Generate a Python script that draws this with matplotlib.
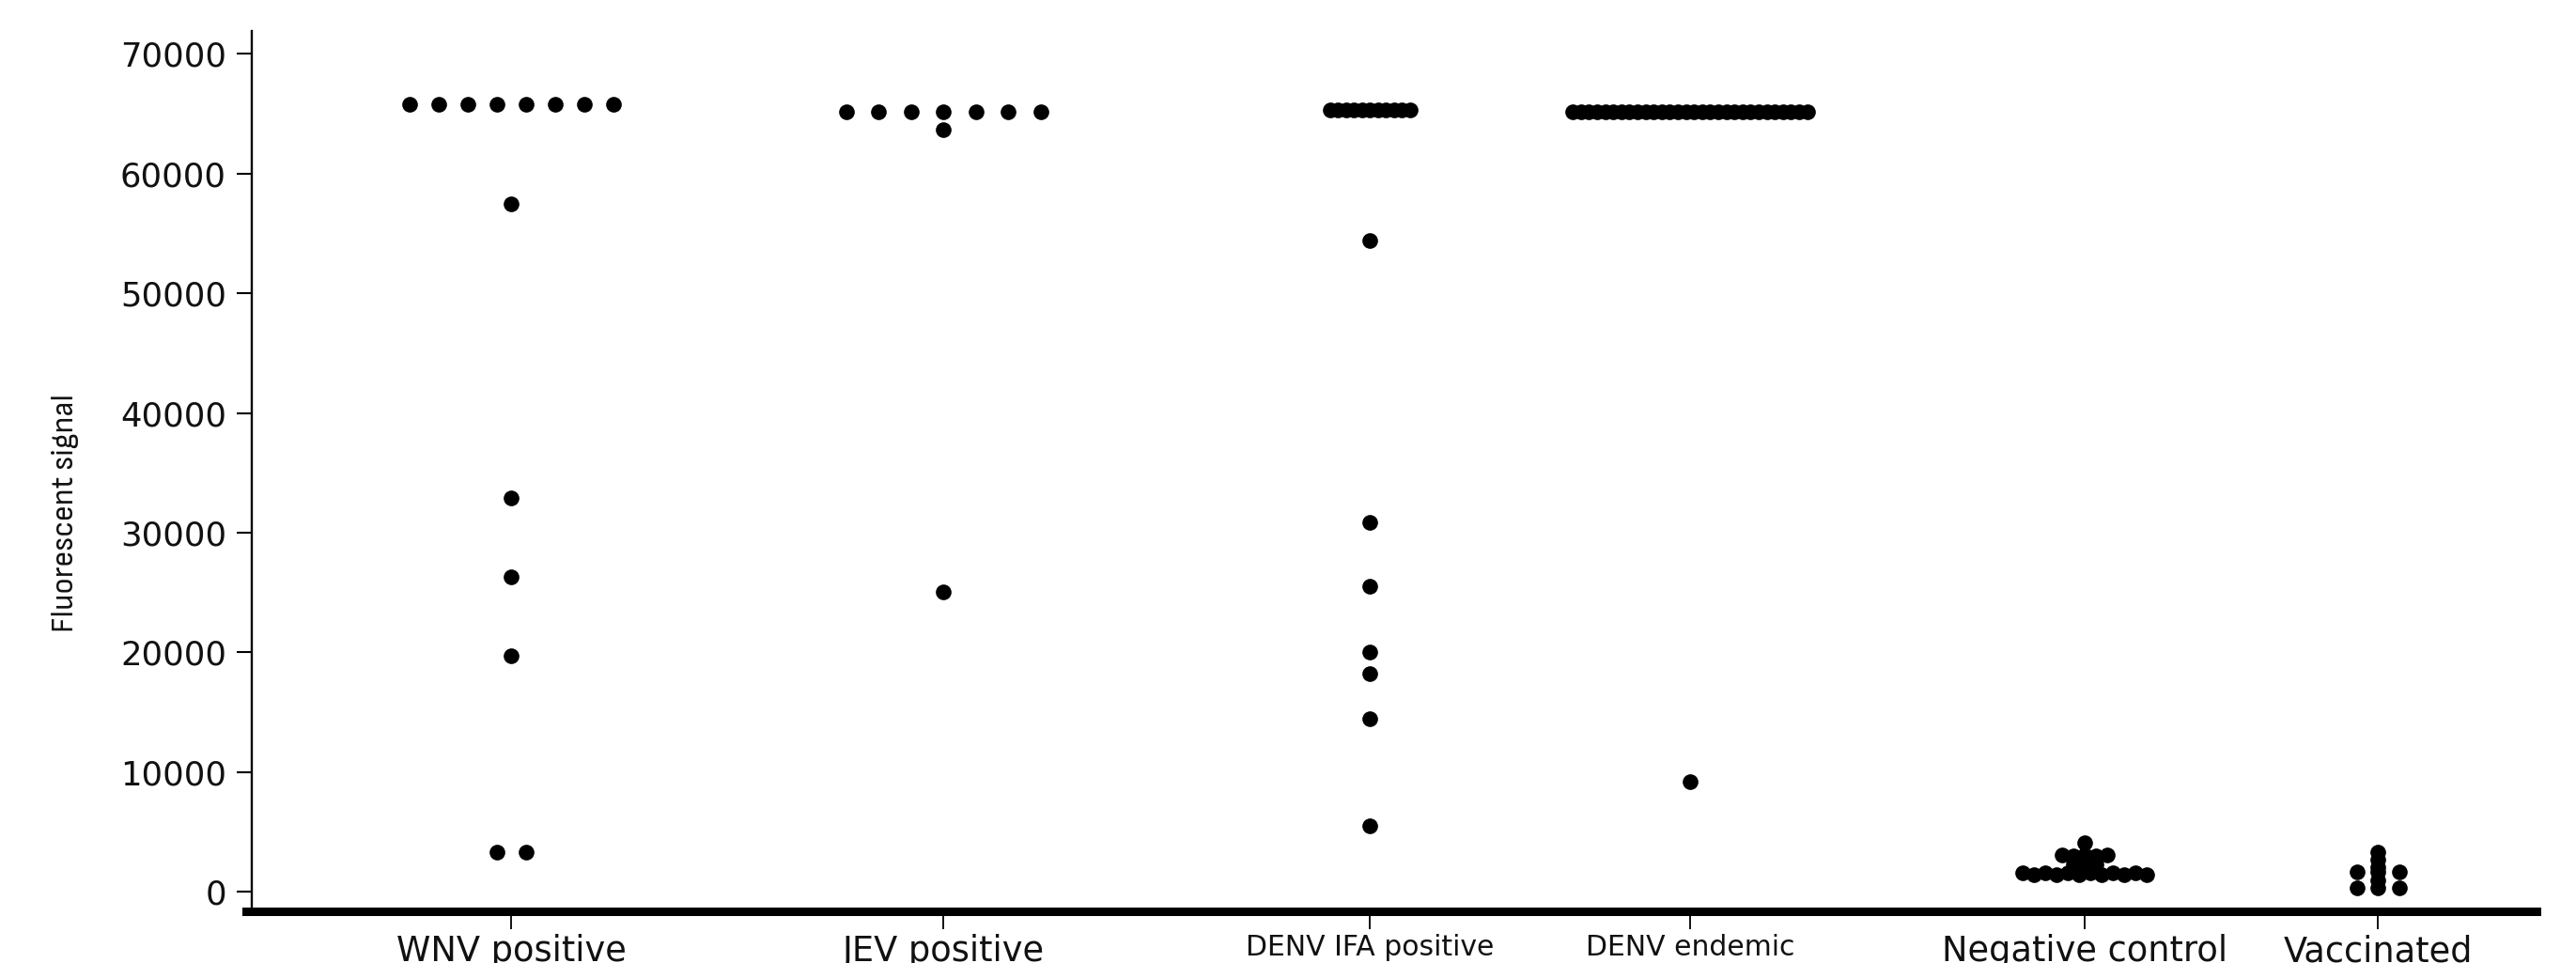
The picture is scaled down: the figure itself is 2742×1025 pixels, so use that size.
import matplotlib
matplotlib.use("Agg")
import matplotlib.pyplot as plt
from matplotlib import font_manager as fm
import numpy as np

# ---------------- data ----------------
categories = ["WNV positive", "JEV positive", "DENV IFA positive",
              "DENV endemic", "Negative control", "Vaccinated"]

wnv_positive = [65800, 65800, 65800, 65800, 65800, 65800, 65800, 65800,
                57500, 32900, 26300, 19700, 3300, 3300]
jev_positive = [65200, 65200, 65200, 65200, 65200, 65200, 65200,
                63700, 25100]
denv_ifa_positive = [65300, 65300, 65300, 65300, 65300, 65300, 65300, 65300,
                     65300, 65300, 65300,
                     54400, 30900, 25500, 20000, 18200, 14500, 5500]
denv_endemic = [65200, 65200, 65200, 65200, 65200, 65200, 65200, 65200,
                65200, 65200, 65200, 65200, 65200, 65200, 65200, 65200,
                65200, 65200, 65200, 65200, 65200, 65200, 65200, 65200,
                65200, 65200, 65200, 65200, 65200, 65200,
                9200]
negative_control = [1600, 1400, 1600, 1400, 1600, 1400, 1600, 1400,
                    1600, 1400, 1600, 1400,
                    2300, 2300, 2300,
                    3050, 3000, 3100, 3000, 3050,
                    4100]
vaccinated = [3300, 2700, 2100, 1650, 1650, 1650, 1000, 350, 350, 350]

series = [wnv_positive, jev_positive, denv_ifa_positive, denv_endemic,
          negative_control, vaccinated]

y_ticks = [0, 10000, 20000, 30000, 40000, 50000, 60000, 70000]
y_tick_labels = ["0", "10000", "20000", "30000", "40000", "50000", "60000", "70000"]
y_label = "Fluorescent signal"

# ---------------- layout / style ----------------
W, H = 2742, 1025
cat_pos = [1.0, 2.0, 2.987, 3.728, 4.641, 5.320]     # category centres (x units)
px_per_unit = 460.0
step_px = [31.0, 34.5, 8.5, 8.6, 12.0, 22.5]           # horizontal spread per group
row_bin = [1000, 1000, 1000, 1000, 1000, 500]          # value bin that forms a row

fig = plt.figure(figsize=(W / 100, H / 100), dpi=100)
ax = fig.add_axes([268 / W, 55 / H, 2432 / W, 937 / H])
ax.set_xlim(0.4, 0.4 + 2432 / px_per_unit)
ax.set_ylim(-1625, 71920)


def column_offsets(vals, step, binsize):
    rows = {}
    for i, v in enumerate(vals):
        rows.setdefault(int(v // binsize), []).append(i)
    off = np.zeros(len(vals))
    for idx in rows.values():
        n = len(idx)
        for k, i in enumerate(idx):
            off[i] = (k - (n - 1) / 2.0) * step
    return off


for pos, vals, st, b in zip(cat_pos, series, step_px, row_bin):
    vals = np.asarray(vals, dtype=float)
    xs = pos + column_offsets(vals, st, b) / px_per_unit
    ax.plot(xs, vals, linestyle="none", marker="o", markersize=12,
            markerfacecolor="black", markeredgecolor="black",
            markeredgewidth=0, clip_on=False, zorder=3)

# spines
for s in ("top", "right"):
    ax.spines[s].set_visible(False)
ax.spines["left"].set_linewidth(1.7)
ax.spines["bottom"].set_linewidth(6.5)
ax.spines["bottom"].set_bounds(0.4 - 6 / px_per_unit, 0.4 + 2432 / px_per_unit)

# y axis
ax.set_yticks(y_ticks)
ax.set_yticklabels(y_tick_labels)
ax.tick_params(axis="y", direction="out", length=11.5, width=1.5, pad=8,
               labelsize=25.5, labelcolor="#111111")

# x axis
ax.set_xticks(cat_pos)
ax.set_xticklabels(categories)
ax.tick_params(axis="x", direction="out", length=13.5, width=1.3, pad=4,
               labelsize=26.5, labelcolor="#111111")
for lab in ax.get_xticklabels():
    if lab.get_text().startswith("DENV"):
        lab.set_fontsize(21.5)

# y label: prefer a condensed face, size fitted to the reference length
cond = None
for f in fm.fontManager.ttflist:
    nm = f.name.lower()
    st = str(f.stretch).lower()
    if f.style != "normal" or str(f.weight) not in ("400", "normal", "regular"):
        continue
    if "narrow" in nm or "condensed" in nm or st in ("condensed", "semi-condensed"):
        if cond is None or "liberation" in nm or "sans" in nm:
            cond = f
if cond is not None:
    yprops = fm.FontProperties(fname=cond.fname)
else:
    yprops = fm.FontProperties(family="Liberation Sans")
yprops.set_size(24)
ylab = ax.set_ylabel(y_label, fontproperties=yprops, color="#111111",
                     rotation=90, ha="center", va="center")
ax.yaxis.set_label_coords((70 - 268) / 2432, (970 - 546) / 937)

target_len = 254.0  # px
renderer = fig.canvas.get_renderer()
for _ in range(3):
    bb = ylab.get_window_extent(renderer)
    cur = bb.height
    if cur > 0:
        yprops.set_size(yprops.get_size() * target_len / cur)
        ylab.set_fontproperties(yprops)
# limit thickness growth for non-condensed fallbacks
if cond is None:
    yprops.set_size(min(yprops.get_size(), 24.5))
    ylab.set_fontproperties(yprops)

fig.savefig("out.png", dpi=100, facecolor="white")
